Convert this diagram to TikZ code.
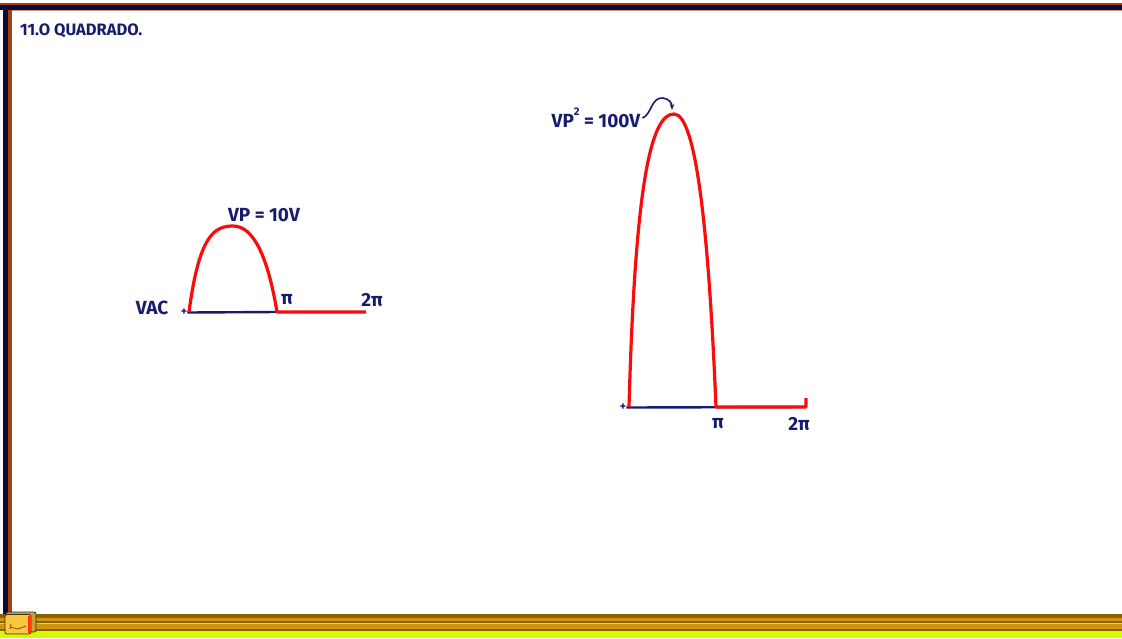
\documentclass[tikz,border=0pt]{standalone}
\usepackage{fontspec}
\setmainfont{Fira Sans}
\usetikzlibrary{arrows.meta,positioning}

\definecolor{ink}{RGB}{24,28,110}
\definecolor{wave}{RGB}{250,12,12}
\definecolor{rim}{RGB}{160,64,20}
\definecolor{rimdark}{RGB}{14,10,52}
\definecolor{traygold}{RGB}{205,150,12}
\definecolor{traybrown}{RGB}{140,98,0}
\definecolor{traylime}{RGB}{214,250,0}
\definecolor{eraser}{RGB}{250,200,60}

\tikzset{
  lbl/.style={text=ink,font=\bfseries\fontsize{19}{19}\selectfont,inner sep=0pt},
  tick/.style={text=ink,font=\bfseries\fontsize{12}{12}\selectfont,inner sep=0pt},
  axis/.style={draw=ink,line width=2.4pt},
  sig/.style={draw=wave,line width=3.2pt,line join=round},
}

\begin{document}
\begin{tikzpicture}[x=1pt,y=-1pt]
\useasboundingbox (0,0) rectangle (1122,638);
% board
\fill[white] (0,0) rectangle (1122,638);
\fill[rim] (0,3) rectangle (1122,5);
\fill[rimdark] (0,5) rectangle (1122,9.5);
\fill[rim!55] (12,9.5) rectangle (1122,11);
\fill[rimdark] (3,5) rectangle (8,614);
\fill[rim] (8,9.5) rectangle (12,614);
% tray
\fill[traybrown] (0,614) rectangle (1122,618);
\fill[traygold] (0,618) rectangle (1122,621);
\fill[traybrown] (0,621) rectangle (1122,622.5);
\fill[traylime!80!traygold] (0,622.5) rectangle (1122,624);
\fill[traygold] (0,624) rectangle (1122,628.5);
\fill[traybrown] (0,628.5) rectangle (1122,631);
\fill[traylime] (0,631) rectangle (1122,638);
% eraser
\filldraw[fill=eraser!80!black,draw=black!80,line width=0.8pt,rounded corners=2pt] (6,612) rectangle (36,632);
\filldraw[fill=eraser,draw=black!80,line width=0.8pt,rounded corners=2pt] (5,614.5) rectangle (31,634);
\fill[wave!60!orange] (28,616) rectangle (31,633);
\draw[rim,line width=0.8pt] (10,627) -- (18,629) -- (26,626);
\draw[rim,line width=0.8pt] (11,624) -- (10,629);

\node[lbl,anchor=west,font=\bfseries\fontsize{16.5}{16.5}\selectfont] (title) at (20,31) {11.O QUADRADO.};

% half wave, Vp = 10 V
\coordinate (o1) at (189,312);
\coordinate (p1) at (277,312);
\coordinate (e1) at (366,312);
\node[tick] (plus1) at (184,312.5) {+};
\node[lbl] (vac) at (152,308) {VAC};
\node[lbl] (vp1) at (264,215) {VP = 10V};
\node[lbl] (pi1) at (287,300) {π};
\node[lbl] (tpi1) at (372,300) {2π};
\draw[axis] (plus1.east) -- (p1);
\draw[sig] (o1) .. controls (199,236) and (214,226) .. (233,226)
  .. controls (254,226) and (268,258) .. (p1) -- (e1);

% squared, Vp^2 = 100 V
\coordinate (o2) at (629,407);
\coordinate (p2) at (716,407);
\coordinate (e2) at (806,407);
\coordinate (top2) at (806,398);
\node[tick] (plus2) at (623,407.5) {+};
\node[lbl] (vp2) at (596,118) {VP\raisebox{1.2ex}{\fontsize{11}{11}\selectfont 2} = 100V};
\node[lbl] (pi2) at (718,424) {π};
\node[lbl] (tpi2) at (799,424) {2π};
\draw[axis] (plus2.east) -- (e2);
\draw[sig] (o2) .. controls (635,190) and (650,114) .. (674,114)
  .. controls (697,114) and (709,240) .. (p2) -- (e2) -- (top2);
\draw[ink,line width=1.6pt,-{Stealth[length=6pt]}] ([xshift=2pt]vp2.east)
  .. controls (652,114) and (651,97) .. (663,98)
  .. controls (669,99) and (672,103) .. (672,110);
\end{tikzpicture}
\end{document}
